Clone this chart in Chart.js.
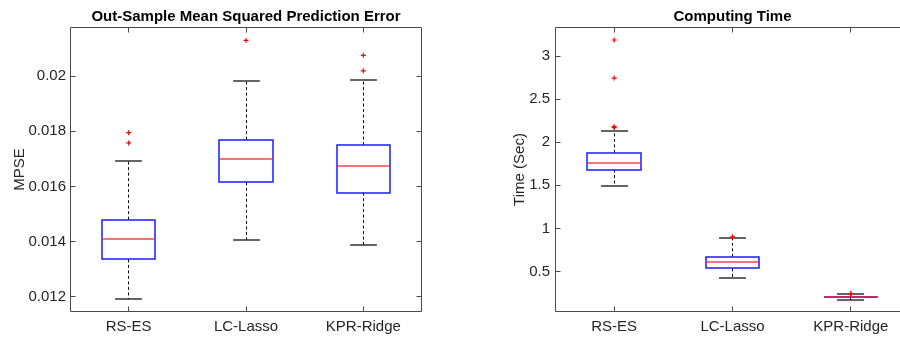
<!DOCTYPE html>
<html>
<head>
<meta charset="utf-8">
<script src="https://cdn.jsdelivr.net/npm/chart.js@4"></script>
<style>
html, body { margin: 0; padding: 0; background: #fff; overflow: hidden; width: 900px; height: 337px; position: relative; }
#mpse_chart { position: absolute; left: 0; top: 0; }
#time_chart { position: absolute; left: 450px; top: 0; }
</style>
</head>
<body>
<canvas id="mpse_chart" width="450" height="337"></canvas>
<canvas id="time_chart" width="470" height="337"></canvas>
<script>
// methods on the x axis
const categories = ['RS-ES', 'LC-Lasso', 'KPR-Ridge'];

// out-sample MPSE, box plot stats
const mpseLow = [0.01193, 0.01406, 0.01388];
const mpseQ1 = [0.01336, 0.01615, 0.01578];
const mpseMed = [0.01409, 0.01698, 0.01673];
const mpseQ3 = [0.01480, 0.01770, 0.01750];
const mpseHigh = [0.01694, 0.01983, 0.01986];
const mpseOut = [[0.01795, 0.01758], [0.02129], [0.02075, 0.02019]];
const mpseTicks = [0.012, 0.014, 0.016, 0.018, 0.02];
const mpseTickLabels = ['0.012', '0.014', '0.016', '0.018', '0.02'];
const mpseRange = [0.011456, 0.021776];

// computing time in seconds
const timeLow = [1.497, 0.422, 0.175];
const timeQ1 = [1.683, 0.535, 0.201];
const timeMed = [1.763, 0.616, 0.205];
const timeQ3 = [1.876, 0.670, 0.209];
const timeHigh = [2.134, 0.893, 0.236];
const timeOut = [[3.186, 2.744, 2.180, 2.170], [0.902], [0.245, 0.240]];
const timeTicks = [0.5, 1, 1.5, 2, 2.5, 3];
const timeTickLabels = ['0.5', '1', '1.5', '2', '2.5', '3'];
const timeRange = [0.0302, 3.337];

Chart.defaults.font.family = '"Liberation Sans", Arial, Helvetica, sans-serif';
Chart.defaults.color = '#262626';

function px(v){
    return Math.floor(v) + 0.5;
}

// whiskers, caps, box outline and medians, placed with the chart scales
const boxPlugin = {
    id: 'boxplot',
    beforeDatasetsDraw(chart, args, opts) {
        const ctx = chart.ctx;
        const y = chart.scales.y;
        const bars = chart.getDatasetMeta(0).data;
        ctx.save();
        bars.forEach((bar, i) => {
            const cx = px(bar.x);
            const cap = bar.width / 4;
            const yLow = Math.round(y.getPixelForValue(opts.low[i]));
            const yHigh = Math.round(y.getPixelForValue(opts.high[i]));
            const yQ1 = y.getPixelForValue(opts.q1[i]);
            const yQ3 = y.getPixelForValue(opts.q3[i]);
            ctx.strokeStyle = '#000';
            ctx.lineWidth = 1;
            ctx.setLineDash([3, 2.5]);
            ctx.beginPath();
            ctx.moveTo(cx, yQ3); ctx.lineTo(cx, yHigh);
            ctx.moveTo(cx, yQ1); ctx.lineTo(cx, yLow);
            ctx.stroke();
            ctx.setLineDash([]);
            ctx.strokeStyle = '#333';
            ctx.lineWidth = 1.4;
            ctx.beginPath();
            ctx.moveTo(cx - cap, yHigh); ctx.lineTo(cx + cap, yHigh);
            ctx.moveTo(cx - cap, yLow); ctx.lineTo(cx + cap, yLow);
            ctx.stroke();
        });
        ctx.restore();
    },
    afterDatasetDraw(chart, args, opts) {
        if (args.index !== 0) return;
        const ctx = chart.ctx;
        const y = chart.scales.y;
        ctx.save();
        args.meta.data.forEach((bar, i) => {
            const x0 = Math.round(bar.x - bar.width / 2);
            const x1 = Math.round(bar.x + bar.width / 2);
            const yQ1 = Math.round(y.getPixelForValue(opts.q1[i]));
            const yQ3 = Math.round(y.getPixelForValue(opts.q3[i]));
            ctx.strokeStyle = '#1a1aff';
            ctx.lineWidth = 1.5;
            ctx.strokeRect(x0, yQ3, x1 - x0, yQ1 - yQ3);
            const ym = Math.round(y.getPixelForValue(opts.med[i]));
            ctx.strokeStyle = 'rgba(255,20,20,0.8)';
            ctx.lineWidth = 1.4;
            ctx.beginPath();
            ctx.moveTo(x0 + 0.75, ym);
            ctx.lineTo(x1 - 0.75, ym);
            ctx.stroke();
        });
        ctx.restore();
    },
    // matlab style axes box with inward ticks
    afterDraw(chart) {
        const ctx = chart.ctx;
        const a = chart.chartArea;
        const L = Math.floor(a.left) + 0.5, R = Math.floor(a.right) - 0.5;
        const T = Math.floor(a.top) + 0.5, B = Math.floor(a.bottom) - 0.5;
        const tl = 5;
        ctx.save();
        ctx.strokeStyle = '#4a4a4a';
        ctx.lineWidth = 1;
        ctx.beginPath();
        ctx.rect(L, T, R - L, B - T);
        chart.scales.y.ticks.forEach(t => {
            const py = px(chart.scales.y.getPixelForValue(t.value));
            ctx.moveTo(L, py); ctx.lineTo(L + tl, py);
            ctx.moveTo(R, py); ctx.lineTo(R - tl, py);
        });
        chart.scales.x.ticks.forEach((t, i) => {
            const pxx = px(chart.scales.x.getPixelForValue(i));
            ctx.moveTo(pxx, B); ctx.lineTo(pxx, B - tl);
            ctx.moveTo(pxx, T); ctx.lineTo(pxx, T + tl);
        });
        ctx.stroke();
        ctx.restore();
    }
};

function outlierPoints(out){
    const pts = [];
    out.forEach((vals, i) => vals.forEach(v => pts.push({x: categories[i], y: v})));
    return pts;
}

function make_box_chart(id, opt){
    return new Chart(id, {
        type: 'bar',
        data: {
            labels: categories,
            datasets: [{
                // floating bars give the box geometry (q1..q3), outline drawn by the plugin
                type: 'bar',
                order: 1,
                data: opt.q1.map((v, i) => [v, opt.q3[i]]),
                backgroundColor: 'rgba(0,0,0,0)',
                borderWidth: 0,
                barPercentage: 0.455,
                categoryPercentage: 1
            }, {
                type: 'scatter',
                order: 0,
                data: outlierPoints(opt.out),
                pointStyle: 'cross',
                pointRadius: 2.5,
                borderColor: '#ff0000',
                backgroundColor: '#ff0000',
                borderWidth: 1.2
            }]
        },
        options: {
            responsive: false,
            animation: false,
            events: [],
            layout: { padding: { left: 0, right: opt.padRight, top: 0, bottom: 0 } },
            plugins: {
                legend: { display: false },
                tooltip: { enabled: false },
                title: {
                    display: true,
                    fullSize: false,
                    text: opt.title,
                    color: '#000',
                    font: { size: 15, weight: 'bold' },
                    padding: { top: 7.5, bottom: 1.5 }
                },
                boxplot: { low: opt.low, q1: opt.q1, med: opt.med, q3: opt.q3, high: opt.high }
            },
            scales: {
                x: {
                    offset: true,
                    grid: { display: false, drawTicks: false },
                    border: { display: false },
                    ticks: { padding: 6, font: { size: 15 }, maxRotation: 0, autoSkip: false },
                    afterFit: s => { s.height = 25; }
                },
                y: {
                    min: opt.range[0],
                    max: opt.range[1],
                    grid: { display: false, drawTicks: false },
                    border: { display: false },
                    afterBuildTicks: s => { s.ticks = opt.ticks.map(v => ({ value: v })); },
                    ticks: {
                        padding: opt.tickPad,
                        font: { size: 15 },
                        callback: (v, i) => opt.tickLabels[i]
                    },
                    title: {
                        display: true,
                        text: opt.yTitle,
                        font: { size: 15 },
                        padding: { top: opt.titlePad, bottom: 0 }
                    },
                    afterFit: s => { s.width = opt.yWidth; }
                }
            }
        },
        plugins: [boxPlugin]
    });
}

make_box_chart('mpse_chart', {
    title: 'Out-Sample Mean Squared Prediction Error',
    yTitle: 'MPSE',
    low: mpseLow, q1: mpseQ1, med: mpseMed, q3: mpseQ3, high: mpseHigh, out: mpseOut,
    ticks: mpseTicks, tickLabels: mpseTickLabels, range: mpseRange,
    yWidth: 70, padRight: 28, tickPad: 4, titlePad: 10.5
});

make_box_chart('time_chart', {
    title: 'Computing Time',
    yTitle: 'Time (Sec)',
    low: timeLow, q1: timeQ1, med: timeMed, q3: timeQ3, high: timeHigh, out: timeOut,
    ticks: timeTicks, tickLabels: timeTickLabels, range: timeRange,
    yWidth: 105, padRight: 10, tickPad: 5, titlePad: 61
});
</script>
</body>
</html>
